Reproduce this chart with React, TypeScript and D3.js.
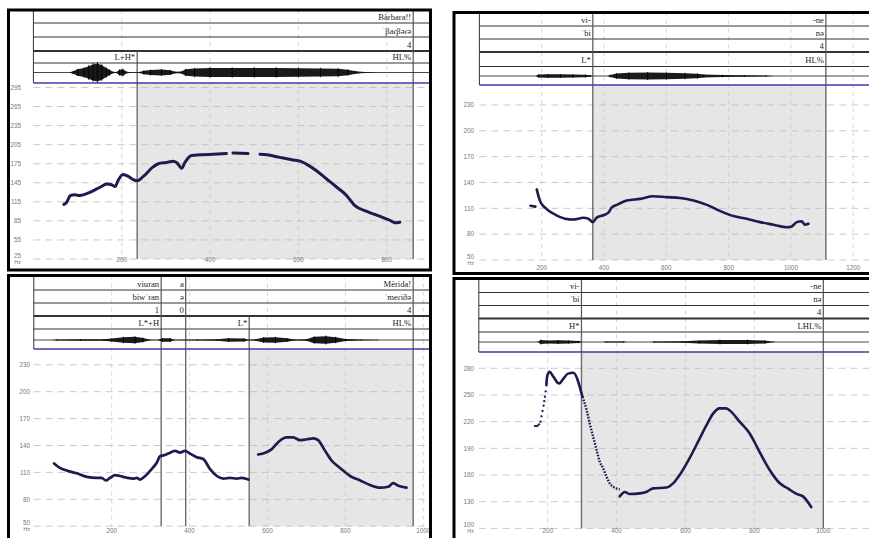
import React from "react";
import * as d3 from "d3";

// ---------------- data ----------------
// Top-left: Bàrbara!!
const tlTicksX = [200, 400, 600, 800];
const tlTicksY = [25, 55, 85, 115, 145, 175, 205, 235, 265, 295];
const tlTiers = [
  [[860, "Bàrbara!!"]],
  [[860, "ˈβaɾβəɾə"]],
  [[860, "4"]],
  [[235, "L+H*"], [860, "HL%"]],
];
const tlShade = [235, 860];
const tlPitchA = [[69,111],[75,114],[84,125],[94,126],[105,125],[128,130],[151,138],[166,143],[177,142],[185,139],[192,149],[203,158],[215,155],[226,150],[235,148],[249,155],[271,170],[283,175],[302,177],[317,179],[324,177],[336,168],[343,177],[358,188],[377,189],[407,190],[437,191]];
const tlPitchB = [[452,192],[470,191.5],[486,191]];
const tlPitchC = [[513,190],[528,189],[558,185],[588,181],[604,179],[619,174],[641,164],[664,151],[687,138],[709,125],[728,109],[755,100],[785,92],[807,86],[819,82],[830,83]];
const tlEnvelope = [[80,0],[90,0.15],[100,0.35],[115,0.5],[125,0.7],[135,0.9],[145,1],[155,0.8],[165,0.5],[172,0.3],[180,0.08],[188,0.05],[195,0.3],[203,0.35],[210,0.1],[220,0.04],[240,0.05],[250,0.2],[265,0.28],[290,0.32],[310,0.25],[322,0.08],[335,0.1],[345,0.35],[365,0.45],[400,0.5],[450,0.5],[500,0.5],[550,0.5],[600,0.48],[650,0.45],[690,0.42],[712,0.3],[730,0.15],[750,0.06],[770,0.02],[775,0]];

// Top-right: vi- -ne (L* HL%)
const trTicksX = [200, 400, 600, 800, 1000, 1200];
const trTicksY = [50, 80, 110, 140, 170, 200, 230];
const trTiers = [
  [[364, "vi-"], [1112, "-ne"]],
  [[364, "ˈbi"], [1112, "nə"]],
  [[364, ""], [1112, "4"]],
  [[364, "L*"], [1112, "HL%"]],
];
const trShade = [364, 1112];
const trPitchA = [[164,113],[180,112]];
const trPitchB = [[184,132],[194,119],[210,111],[237,104],[275,98],[301,97],[334,99],[350,98],[364,94],[376,99],[398,102],[414,105],[425,111],[441,114],[473,119],[516,121],[558,124],[601,123],[644,122],[687,119],[730,114],[772,107],[815,101],[858,98],[901,94],[944,91],[987,88],[1002,89],[1019,94],[1034,95],[1045,91],[1056,92]];
const trEnvelope = [[180,0],[190,0.2],[220,0.25],[260,0.25],[300,0.22],[340,0.18],[356,0.1],[362,0],[410,0],[420,0.15],[440,0.35],[480,0.45],[540,0.5],[600,0.45],[660,0.4],[700,0.32],[720,0.2],[780,0.15],[850,0.12],[920,0.08],[945,0]];

// Bottom-left: viuran a Mèrida!
const blTicksX = [200, 400, 600, 800, 1000];
const blTicksY = [50, 80, 110, 140, 170, 200, 230];
const blTiers = [
  [[327, "viuran"], [390, "a"], [974, "Mèrida!"]],
  [[327, "biwˈran"], [390, "ə"], [974, "ˈmeɾiðə"]],
  [[327, "1"], [390, "0"], [974, "4"]],
  [[327, "L*+H"], [390, ""], [553, "L*"], [974, "HL%"]],
];
const blShade = [553, 974];
const blPitchA = [[52,120],[67,115],[85,112],[110,109],[136,105],[162,104],[174,104],[185,101],[196,104],[209,107],[221,106],[239,104],[256,103],[264,104],[273,102],[286,106],[303,114],[316,121],[324,128],[333,129],[345,131],[363,134],[375,132],[388,134],[401,131],[418,127],[435,125],[452,114],[470,106],[487,103],[504,104],[521,103],[534,104],[551,102]];
const blPitchB = [[576,130],[594,132],[611,136],[628,144],[649,149],[666,149],[683,146],[701,147],[718,148],[730,146],[748,134],[765,123],[786,115],[812,106],[838,101],[863,96],[889,93],[910,94],[923,98],[936,95],[957,93]];
const blEnvelope = [[45,0],[60,0.08],[120,0.1],[180,0.12],[200,0.2],[230,0.4],[260,0.45],[280,0.3],[300,0.05],[320,0.05],[330,0.25],[350,0.25],[360,0.05],[420,0.06],[470,0.1],[500,0.25],[540,0.2],[550,0.05],[570,0.1],[590,0.35],[620,0.4],[650,0.25],[670,0.08],[700,0.1],[720,0.45],[750,0.55],[775,0.4],[800,0.15],[840,0.08],[880,0.03],[890,0]];

// Bottom-right: vi- -ne (H* LHL%)
const brTicksX = [200, 400, 600, 800, 1000];
const brTicksY = [100, 130, 160, 190, 220, 250, 280];
const brTiers = [
  [[298, "vi-"], [1000, "-ne"]],
  [[298, "ˈbi"], [1000, "nə"]],
  [[298, ""], [1000, "4"]],
  [[298, "H*"], [1000, "LHL%"]],
];
const brShade = [298, 1000];
const brPitchDots = [[163,215],[167,215],[171,215.5],[175,217],[179,220],[182,226],[185,232],[188,238],[190,243],[192,248],[194,254]];
const brPitchA = [[196,261],[199,272],[206,276],[214,272],[221,268],[228,264],[234,263],[245,268],[259,274],[274,275],[286,268],[293,259],[301,248]];
const brPitchB = [[301,248],[313,233],[322,218],[332,203],[342,188],[351,175],[361,167.5],[371,158],[380,150.6],[390,146.8],[409,144]];
const brPitchC = [[409,136],[424,141],[438,138.6],[467,139.4],[486,141],[506,145],[545,146],[564,150.6],[583,160],[612,179],[641,201],[661,216],[680,229],[699,235],[718,235],[733,231],[757,220],[786,207],[815,186],[844,166],[873,151],[897,145],[921,139],[941,136],[965,124]];
const brEnvelope = [[170,0],[180,0.3],[200,0.2],[230,0.25],[260,0.2],[290,0.15],[300,0],[360,0],[370,0.06],[420,0.06],[430,0],[500,0],[510,0.08],[590,0.1],[640,0.2],[700,0.3],[780,0.3],[830,0.2],[855,0.05],[860,0]];

// ---------------- layout ----------------
const panels = [
  {
    frame: { x: 8.5, y: 10, w: 422, h: 260 },
    xCal: { domain: [0, 800], range: [33.4, 386.7] },
    yCal: { domain: [25, 295], range: [259, 87.5] },
    rowLines: [10, 23, 37, 51, 63], waveCenter: 72.5, blue: 83, waveHalf: 9,
    yLabelX: 21, xLabelY: 261.5, pitchWidth: 3,
    ticksX: tlTicksX, ticksY: tlTicksY, tiers: tlTiers, shade: tlShade,
    pitch: [tlPitchA, tlPitchB, tlPitchC], dotted: [], dots: [], envelope: tlEnvelope,
  },
  {
    frame: { x: 454, y: 12.5, w: 430, h: 261 },
    xCal: { domain: [0, 1200], range: [479.4, 853.3] },
    yCal: { domain: [50, 230], range: [260, 105] },
    rowLines: [12.5, 26, 39, 52, 66.5], waveCenter: 76, blue: 85, waveHalf: 7,
    yLabelX: 474, xLabelY: 269.5, pitchWidth: 2.6,
    ticksX: trTicksX, ticksY: trTicksY, tiers: trTiers, shade: trShade,
    pitch: [trPitchA, trPitchB], dotted: [], dots: [], envelope: trEnvelope,
  },
  {
    frame: { x: 8.5, y: 275.5, w: 422, h: 280 },
    xCal: { domain: [0, 1000], range: [33.8, 423.3] },
    yCal: { domain: [50, 230], range: [526.2, 364.8] },
    rowLines: [275.5, 290, 303, 316, 329], waveCenter: 340, blue: 349, waveHalf: 7,
    yLabelX: 30, xLabelY: 532.5, pitchWidth: 2.7,
    ticksX: blTicksX, ticksY: blTicksY, tiers: blTiers, shade: blShade,
    pitch: [blPitchA, blPitchB], dotted: [], dots: [], envelope: blEnvelope,
  },
  {
    frame: { x: 454, y: 278.5, w: 430, h: 280 },
    xCal: { domain: [0, 1000], range: [478.8, 823.3] },
    yCal: { domain: [100, 280], range: [528.4, 368.3] },
    rowLines: [278.5, 292.5, 305.5, 318.5, 332], waveCenter: 342, blue: 352, waveHalf: 7,
    yLabelX: 474, xLabelY: 532.5, pitchWidth: 2.6,
    ticksX: brTicksX, ticksY: brTicksY, tiers: brTiers, shade: brShade,
    pitch: [brPitchA, brPitchC], dotted: [brPitchB], dots: brPitchDots, envelope: brEnvelope,
  },
];

const PITCH = "#1c1c4e";
const SERIF = "'Liberation Serif', 'DejaVu Serif', serif";
const SANS = "'Liberation Sans', Arial, sans-serif";

function Panel({ cfg }: { cfg: any }) {
  const { frame } = cfg;
  const x = d3.scaleLinear().domain(cfg.xCal.domain).range(cfg.xCal.range);
  const y = d3.scaleLinear().domain(cfg.yCal.domain).range(cfg.yCal.range);
  const amp = d3.scaleLinear().domain([0, 1]).range([0, cfg.waveHalf]);
  const x0 = x(0);
  const right = frame.x + frame.w;
  const yMin = cfg.ticksY[0];
  const plotBottom = y(yMin);
  const line = d3.line<number[]>().x((d) => x(d[0])).y((d) => y(d[1])).curve(d3.curveMonotoneX);
  const area = d3
    .area<number[]>()
    .x((d) => x(d[0]))
    .y0((d) => cfg.waveCenter - amp(d[1]))
    .y1((d) => cfg.waveCenter + amp(d[1]))
    .curve(d3.curveLinear);
  const allBounds: number[] = Array.from(
    new Set(cfg.tiers.flat().map((b: any) => b[0] as number))
  );
  const rl = cfg.rowLines;
  return (
    <g>
      <rect
        x={x(cfg.shade[0])}
        y={cfg.blue}
        width={x(cfg.shade[1]) - x(cfg.shade[0])}
        height={plotBottom - cfg.blue}
        fill="#e6e6e6"
      />
      {cfg.ticksX.map((t: number) => (
        <line key={"vx" + t} x1={x(t)} x2={x(t)} y1={frame.y} y2={plotBottom}
          stroke="#c9c9c9" strokeWidth={0.8} strokeDasharray="4,4" />
      ))}
      {cfg.ticksY.map((v: number, i: number) => (
        <g key={"hy" + v}>
          <line x1={x0} x2={right} y1={y(v)} y2={y(v)} stroke="#bdbdbd" strokeWidth={0.8} strokeDasharray="7,5" />
          <text x={cfg.yLabelX} y={i === 0 ? y(v) - 1 : y(v) + 2.2} textAnchor="end" fontSize={6.3} fontFamily={SANS} fill="#777">{v}</text>
          {i === 0 && (
            <text x={cfg.yLabelX} y={y(v) + 4.5} textAnchor="end" fontSize={5.5} fontFamily={SANS} fill="#777">Hz</text>
          )}
        </g>
      ))}
      {cfg.ticksX.map((t: number) => (
        <text key={"lx" + t} x={x(t)} y={cfg.xLabelY} textAnchor="middle" fontSize={6.3} fontFamily={SANS} fill="#777">{t}</text>
      ))}
      {allBounds.map((b) => (
        <line key={"bd" + b} x1={x(b)} x2={x(b)} y1={rl[4]} y2={plotBottom} stroke="#6b6b6b" strokeWidth={1.4} />
      ))}
      {rl.slice(1).map((ly: number, i: number) => (
        <line key={"rl" + i} x1={x0} x2={right} y1={ly} y2={ly} stroke="#333" strokeWidth={i === 2 ? 1.8 : 1} />
      ))}
      <line x1={x0} x2={x0} y1={frame.y} y2={cfg.blue} stroke="#333" strokeWidth={1} />
      {cfg.tiers.map((tier: any[], ri: number) => (
        <g key={"tier" + ri}>
          {tier.map((b: any) => (
            <g key={"b" + b[0]}>
              <line x1={x(b[0])} x2={x(b[0])} y1={rl[ri]} y2={rl[ri + 1]} stroke="#555" strokeWidth={1.2} />
              <text x={x(b[0]) - 2} y={rl[ri + 1] - 3.2} textAnchor="end" fontSize={8.6} fontFamily={SERIF} fill="#222">{b[1]}</text>
            </g>
          ))}
        </g>
      ))}
      <line x1={x0} x2={right} y1={cfg.waveCenter} y2={cfg.waveCenter} stroke="#333" strokeWidth={0.9} />
      <path d={area(cfg.envelope) || ""} fill="#1a1a1a" />
      {cfg.envelope.map((d: number[], i: number) => (
        <line key={"wv" + i} x1={x(d[0])} x2={x(d[0])}
          y1={cfg.waveCenter - amp(d[1]) * 1.15} y2={cfg.waveCenter + amp(d[1]) * 1.15}
          stroke="#000" strokeWidth={0.9} />
      ))}
      <line x1={x0} x2={right} y1={cfg.blue} y2={cfg.blue} stroke="#3b3bb0" strokeWidth={1.3} />
      {cfg.pitch.map((seg: number[][], i: number) => (
        <path key={"p" + i} d={line(seg) || ""} fill="none" stroke={PITCH} strokeWidth={cfg.pitchWidth} strokeLinecap="round" strokeLinejoin="round" />
      ))}
      {cfg.dotted.map((seg: number[][], i: number) => (
        <path key={"dt" + i} d={line(seg) || ""} fill="none" stroke={PITCH} strokeWidth={2.4} strokeDasharray="1.6,1.4" />
      ))}
      {cfg.dots.map((d: number[], i: number) => (
        <circle key={"dot" + i} cx={x(d[0])} cy={y(d[1])} r={1.15} fill={PITCH} />
      ))}
      <rect x={frame.x} y={frame.y} width={frame.w} height={frame.h} fill="none" stroke="#000" strokeWidth={3} />
    </g>
  );
}

export default function App() {
  return (
    <svg
      width={869}
      height={538}
      viewBox="0 0 869 538"
      style={{ position: "fixed", left: 0, top: 0, background: "#fff", display: "block" }}
    >
      <rect x={0} y={0} width={869} height={538} fill="#fff" />
      {panels.map((p, i) => (
        <Panel key={i} cfg={p} />
      ))}
    </svg>
  );
}
